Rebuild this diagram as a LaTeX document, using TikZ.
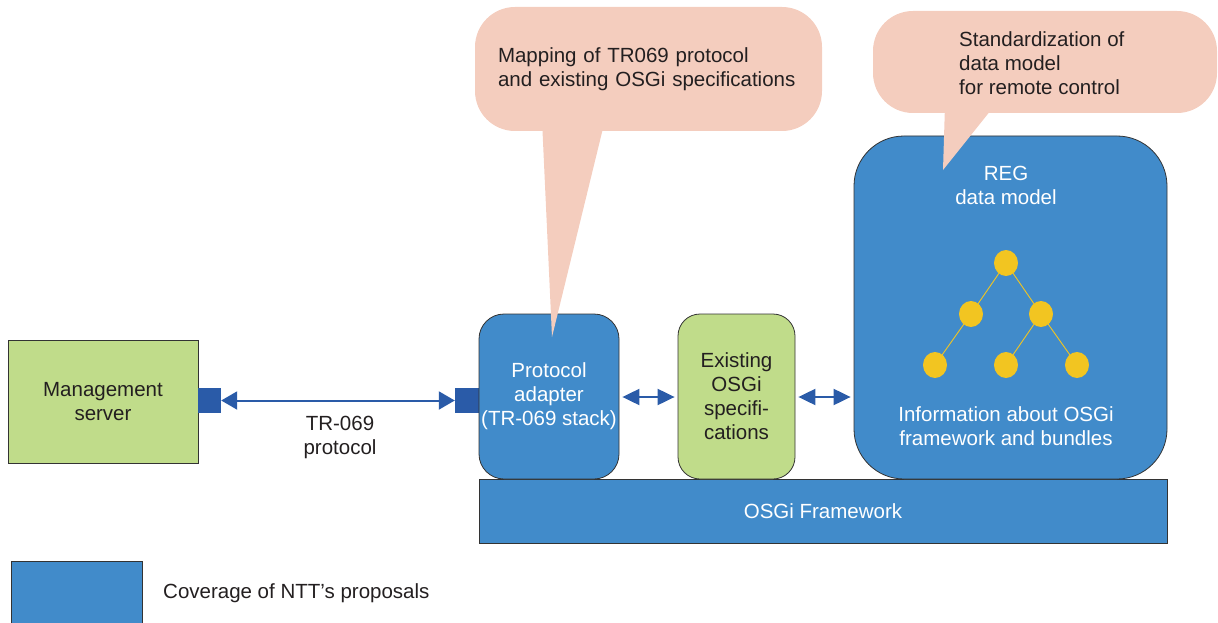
\documentclass[tikz,border=0pt]{standalone}
\usepackage{fontspec}
\setmainfont{Liberation Sans}
\usetikzlibrary{arrows.meta,shapes.geometric}
\definecolor{boxblue}{HTML}{418BCA}
\definecolor{darkblue}{HTML}{2A5BA8}
\definecolor{boxgreen}{HTML}{C0DC8A}
\definecolor{calloutpink}{HTML}{F4CDBE}
\definecolor{nodeyellow}{HTML}{F2C521}
\definecolor{edgegray}{HTML}{333333}
\definecolor{textdark}{HTML}{231F20}
\begin{document}
\begin{tikzpicture}[x=1pt,y=-1pt,
  every node/.style={font=\fontsize{20.5}{24}\selectfont, inner sep=0pt, text=textdark},
  bluebox/.style={draw=edgegray, fill=boxblue, text=white, line width=0.8pt, align=center},
  greenbox/.style={draw=edgegray, fill=boxgreen, text=textdark, line width=0.8pt, align=center},
  port/.style={fill=darkblue, minimum width=23pt, minimum height=25pt},
  longlink/.style={darkblue, line width=2pt, {Triangle[length=16pt,width=18pt]}-{Triangle[length=16pt,width=18pt]}},
  shortlink/.style={darkblue, line width=2pt, {Triangle[length=17pt,width=16pt]}-{Triangle[length=17pt,width=16pt]}, shorten <=3pt, shorten >=3pt},
  treenode/.style={ellipse, fill=nodeyellow, minimum width=24pt, minimum height=26pt},
  treeedge/.style={nodeyellow, line width=0.9pt},
  callout/.style={fill=calloutpink, rounded corners=40pt}
]
\useasboundingbox (0,0) rectangle (1218,623);

% OSGi framework
\node[bluebox, minimum width=688pt, minimum height=64pt] (fw) at (823,511) {OSGi Framework};

% Management server
\node[greenbox, minimum width=190pt, minimum height=123pt] (ms) at (103,401.5) {Management\\server};
\node[port] (mport) at (209.5,400.5) {};
\node[port, minimum width=24pt] (aport) at (467,400.5) {};

% Protocol adapter
\node[bluebox, rounded corners=25pt, minimum width=140pt, minimum height=165pt] (pa) at (549,396.5) {Protocol\\adapter\\(TR-069 stack)};

% Existing OSGi specifications
\node[greenbox, rounded corners=22pt, minimum width=117pt, minimum height=165pt] (ex) at (736.5,396.5) {Existing\\OSGi\\specifi-\\cations};

% REG data model
\node[bluebox, rounded corners=50pt, minimum width=313pt, minimum height=343pt] (reg) at (1010.5,307.5) {};
\node[text=white, align=center] (regt) at (1006,185.5) {REG\\data model};
\node[text=white, align=center] (info) at (1006,426) {Information about OSGi\\framework and bundles};

% tree
\coordinate (n1) at (1006,263);
\coordinate (n2) at (971,314);
\coordinate (n3) at (1041,314);
\coordinate (n4) at (935,365);
\coordinate (n5) at (1006,365);
\coordinate (n6) at (1077,365);
\draw[treeedge] (n1) -- (n2);
\draw[treeedge] (n1) -- (n3);
\draw[treeedge] (n2) -- (n4);
\draw[treeedge] (n3) -- (n5);
\draw[treeedge] (n3) -- (n6);
\node[treenode] (t1) at (n1) {};
\node[treenode] (t2) at (n2) {};
\node[treenode] (t3) at (n3) {};
\node[treenode] (t4) at (n4) {};
\node[treenode] (t5) at (n5) {};
\node[treenode] (t6) at (n6) {};

% connectors
\draw[longlink] (mport.east) -- (aport.west);
\node[align=center] (tr) at (340,437.5) {TR-069\\protocol};
\draw[shortlink] (pa.east |- 0,397) -- (ex.west |- 0,397);
\draw[shortlink] (ex.east |- 0,397) -- (reg.west |- 0,397);

% callouts
\node[callout, minimum width=347pt, minimum height=124pt, text width=301pt, align=left] (c1) at (648.5,69) {Mapping of TR069 protocol\\and existing OSGi specifications};
\coordinate (tip1) at (552,337);
\fill[calloutpink] (542,120) -- (tip1) -- (605,120) -- cycle;

\node[callout, minimum width=344pt, minimum height=102pt] (c2) at (1045,62) {};
\coordinate (tip2) at (943,170);
\fill[calloutpink] (945,105) -- (tip2) -- (995,105) -- cycle;
\node[anchor=west, align=left] (c2t) at (959,63) {Standardization of\\data model\\for remote control};

% legend
\node[draw=edgegray, fill=boxblue, line width=0.8pt, minimum width=131pt, minimum height=69pt] (leg) at (76.5,595.5) {};
\node[anchor=west] (legt) at (163,593) {Coverage of NTT’s proposals};
\end{tikzpicture}
\end{document}
